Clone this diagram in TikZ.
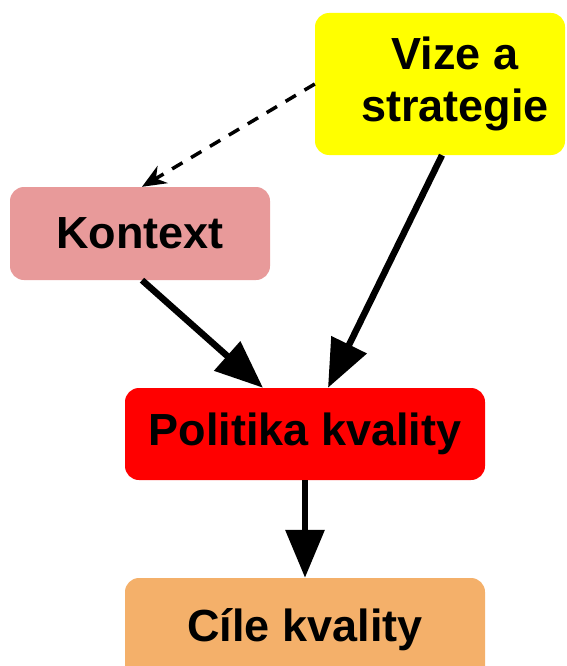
\documentclass[tikz,border=0pt]{standalone}
\usepackage{fontspec}
\setmainfont{Liberation Sans}
\usetikzlibrary{arrows.meta,calc}
\definecolor{vizeY}{RGB}{255,255,0}
\definecolor{kontextP}{RGB}{232,154,154}
\definecolor{polR}{RGB}{255,0,0}
\definecolor{cileO}{RGB}{244,176,106}
\begin{document}
\begin{tikzpicture}[x=1pt,y=-1pt,
  box/.style={rounded corners=14pt, inner sep=0pt, font=\fontsize{45}{52}\selectfont\bfseries},
  heavy/.style={line width=6.5pt, -{Triangle[length=48pt,width=38pt]}},
  light/.style={line width=3.5pt, dash pattern=on 12pt off 10pt, -{Stealth[length=24pt,width=20pt]}}]
\useasboundingbox (0,0) rectangle (566,666);
\clip (0,0) rectangle (566,666);
\node[box, fill=vizeY, minimum width=250pt, minimum height=142pt, align=center] (v) at (440,84) {\hspace*{30pt}Vize a\\\hspace*{30pt}strategie};
\node[box, fill=kontextP, minimum width=260pt, minimum height=93pt] (k) at (140,233.5) {Kontext};
\node[box, fill=polR, minimum width=360pt, minimum height=92pt] (p) at (305,434) {Politika kvality};
\node[box, fill=cileO, minimum width=360pt, minimum height=104pt] (c) at (305,630) {Cíle kvality};
\draw[light] (v.west) -- ($(k.north)+(2,0)$);
\draw[heavy] ($(k.south)+(2,0)$) -- ($(p.north)+(-42,0)$);
\draw[heavy] ($(v.south)+(2,0)$) -- ($(p.north)+(23,0)$);
\draw[heavy] (p.south) -- (c.north);
\end{tikzpicture}
\end{document}
